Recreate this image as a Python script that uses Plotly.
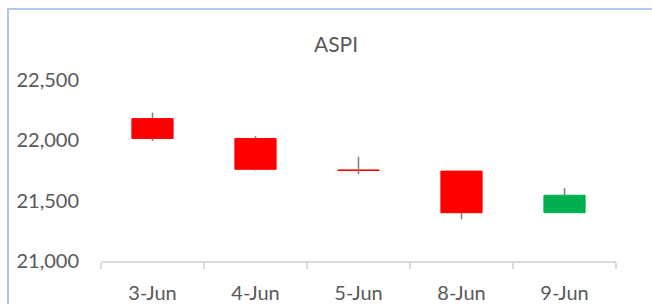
import plotly.graph_objects as go

dates = ["3-Jun", "4-Jun", "5-Jun", "8-Jun", "9-Jun"]
open_ = [22180, 22015, 21755, 21745, 21400]
high = [22230, 22035, 21865, 21745, 21605]
low = [21995, 21750, 21720, 21345, 21400]
close = [22015, 21760, 21750, 21400, 21545]
y_ticks = [21000, 21500, 22000, 22500]
title_text = "ASPI"

RED = "#ff0000"
GREEN = "#00b050"
WICK = "#7f7f7f"
TXT = "#595959"

body_hi = [max(o, c) for o, c in zip(open_, close)]
body_lo = [min(o, c) for o, c in zip(open_, close)]
body_h = [h - l for h, l in zip(body_hi, body_lo)]
body_col = [GREEN if c > o else RED for o, c in zip(open_, close)]

# wick segments (upper and lower), built from the data
wx, wy = [], []
for d, hi, lo, bh, bl in zip(dates, high, low, body_hi, body_lo):
    if hi > bh:
        wx += [d, d, None]
        wy += [bh, hi, None]
    if lo < bl:
        wx += [d, d, None]
        wy += [lo, bl, None]

fig = go.Figure()
fig.add_trace(go.Bar(
    x=dates, y=body_h, base=body_lo, width=0.4,
    marker=dict(color=body_col, line=dict(color=body_col, width=1)),
    showlegend=False,
))
fig.add_trace(go.Scatter(
    x=wx, y=wy, mode="lines", line=dict(color=WICK, width=1.5),
    showlegend=False, hoverinfo="skip",
))

W, H = 652, 304
L, R, T, B = 101, 36, 80, 43
pw, ph = W - L - R, H - T - B

def px(xp):
    return (xp - L) / pw

def py(yp):
    return (H - B - yp) / ph

fig.update_layout(
    width=W, height=H,
    margin=dict(l=L, r=R, t=T, b=B, autoexpand=False),
    paper_bgcolor="white", plot_bgcolor="white",
    font=dict(family="Lato, sans-serif", color=TXT, size=20),
    title=dict(text=title_text, xref="container", x=336 / W, xanchor="center",
               yref="container", y=1 - 45 / H, yanchor="middle",
               font=dict(size=21, color=TXT, family="Lato, sans-serif")),
    xaxis=dict(type="category", range=[-0.5, 4.5], automargin=False,
               showline=True, linecolor="#d9d9d9", linewidth=1.5,
               ticks="outside", tickson="boundaries", ticklen=6, tickcolor="#d9d9d9",
               tickwidth=1.5, showgrid=False, ticklabelstandoff=13,
               tickfont=dict(size=20, color=TXT)),
    yaxis=dict(range=[21000, 22500], tickvals=y_ticks, tickformat=",d",
               automargin=False,
               showgrid=False, zeroline=False, showline=False, ticks="",
               ticklabelstandoff=21, tickfont=dict(size=20, color=TXT)),
    shapes=[dict(type="path", xref="paper", yref="paper",
                 path=f"M {px(8)},{py(320)} L {px(8)},{py(9)} L {px(670)},{py(9)}",
                 line=dict(color="#b4c7e7", width=2))],
)

fig.write_html("out.html", config={"displayModeBar": False},
               post_script="document.body.style.margin='0px';")
